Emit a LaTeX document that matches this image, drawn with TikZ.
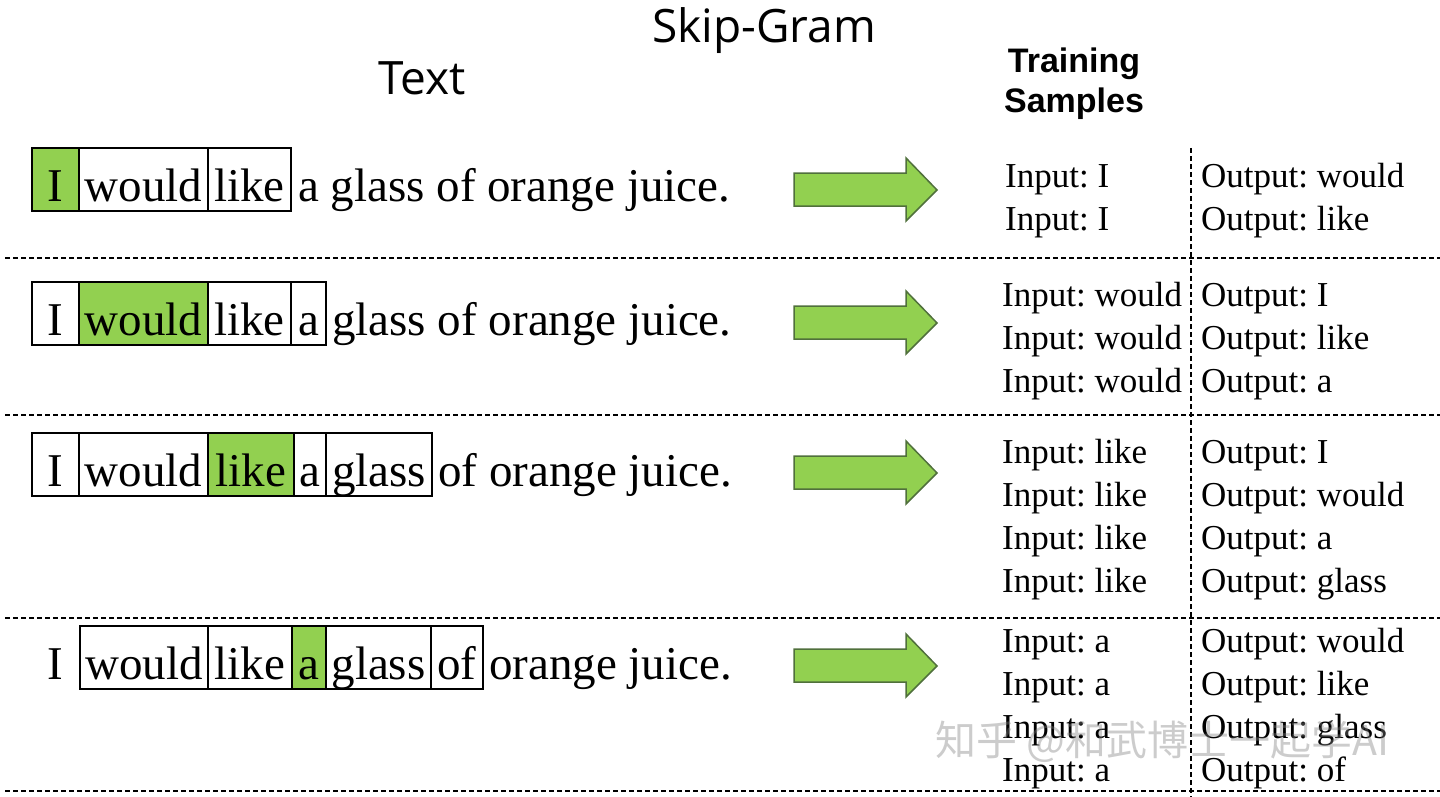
\documentclass[tikz,border=0pt]{standalone}
\usepackage{fontspec}
\setmainfont{Liberation Serif}
\newfontfamily\titlefont{Open Sans}
\newfontfamily\boldsans{Liberation Sans}
\newfontfamily\cjk{Noto Sans CJK SC}
\frenchspacing
\definecolor{hl}{HTML}{92D050}
\definecolor{arrowedge}{HTML}{50703C}
\tikzset{
  sent/.style={font=\fontsize{47}{56}\selectfont, inner sep=0pt, text height=53pt, text depth=10pt},
  wbox/.style={sent, draw=black, line width=1.2pt},
  tail/.style={font=\fontsize{47}{56}\selectfont, inner sep=0pt, anchor=base west},
  sample/.style={font=\fontsize{35}{42}\selectfont, inner sep=0pt, anchor=base west},
  sep/.style={draw=black, line width=1.3pt, dash pattern=on 5pt off 3pt},
  bigarrow/.style={fill=hl, draw=arrowedge, line width=1.5pt, line join=miter},
}
\begin{document}
\begin{tikzpicture}[x=1pt,y=-1pt]
\useasboundingbox (0,0) rectangle (1440,797);

% titles
\node[font=\titlefont\fontsize{46}{54}\selectfont, inner sep=0pt, anchor=base] (title) at (764,43) {Skip-Gram};
\node[font=\titlefont\fontsize{46}{54}\selectfont, inner sep=0pt, anchor=base] (textlbl) at (422,95) {Text};
\node[font=\boldsans\bfseries\fontsize{34}{40}\selectfont, inner sep=0pt, anchor=base, align=center] (train) at (1074,113) {Training\\[0pt]Samples};

% separators
\draw[sep] (5,258) -- (1440,258);
\draw[sep] (5,415) -- (1440,415);
\draw[sep] (5,618) -- (1440,618);
\draw[sep] (5,791) -- (1440,791);
\draw[sep] (1191,148) -- (1191,797);

% ---- row 1
\node[wbox, fill=hl, minimum width=47pt] (r1a) at (55.5,179.5) {I};
\node[wbox, minimum width=129pt] (r1b) at (143.5,179.5) {would};
\node[wbox, minimum width=83pt] (r1c) at (249.5,179.5) {like};
\node[tail] (r1t) at (298,201) {a glass of orange juice.};

% ---- row 2
\node[wbox, minimum width=47pt] (r2a) at (55.5,313.5) {I};
\node[wbox, fill=hl, minimum width=129pt] (r2b) at (143.5,313.5) {would};
\node[wbox, minimum width=83pt] (r2c) at (249.5,313.5) {like};
\node[wbox, minimum width=35pt] (r2d) at (308.5,313.5) {a};
\node[tail] (r2t) at (332,335) {glass of orange juice.};

% ---- row 3
\node[wbox, minimum width=47pt] (r3a) at (55.5,464.5) {I};
\node[wbox, minimum width=129pt] (r3b) at (143.5,464.5) {would};
\node[wbox, fill=hl, minimum width=86pt] (r3c) at (251,464.5) {like};
\node[wbox, minimum width=32pt] (r3d) at (310,464.5) {a};
\node[wbox, minimum width=106pt] (r3e) at (379,464.5) {glass};
\node[tail] (r3t) at (438,486) {of orange juice.};

% ---- row 4
\node[sent] (r4a) at (55.5,657.5) {I};
\node[wbox, minimum width=128pt] (r4b) at (144,657.5) {would};
\node[wbox, minimum width=84pt] (r4c) at (250,657.5) {like};
\node[wbox, fill=hl, minimum width=34pt] (r4d) at (309,657.5) {a};
\node[wbox, minimum width=105pt] (r4e) at (378.5,657.5) {glass};
\node[wbox, minimum width=52pt] (r4f) at (457,657.5) {of};
\node[tail] (r4t) at (489,679) {orange juice.};

% ---- arrows
\foreach \yy in {190,323,473,666}{
  \draw[bigarrow] (794,\yy-17) -- (906,\yy-17) -- (906,\yy-32) -- (937,\yy) -- (906,\yy+31) -- (906,\yy+16) -- (794,\yy+16) -- cycle;
}

% ---- samples row 1
\node[sample] (s1i1) at (1005,187) {Input: I};
\node[sample] (s1i2) at (1005,230) {Input: I};
\node[sample] (s1o1) at (1201,187) {Output: would};
\node[sample] (s1o2) at (1201,230) {Output: like};

% ---- samples row 2
\node[sample] (s2i1) at (1002,306) {Input: would};
\node[sample] (s2i2) at (1002,349) {Input: would};
\node[sample] (s2i3) at (1002,392) {Input: would};
\node[sample] (s2o1) at (1201,306) {Output: I};
\node[sample] (s2o2) at (1201,349) {Output: like};
\node[sample] (s2o3) at (1201,392) {Output: a};

% ---- samples row 3
\node[sample] (s3i1) at (1002,463) {Input: like};
\node[sample] (s3i2) at (1002,506) {Input: like};
\node[sample] (s3i3) at (1002,549) {Input: like};
\node[sample] (s3i4) at (1002,592) {Input: like};
\node[sample] (s3o1) at (1201,463) {Output: I};
\node[sample] (s3o2) at (1201,506) {Output: would};
\node[sample] (s3o3) at (1201,549) {Output: a};
\node[sample] (s3o4) at (1201,592) {Output: glass};

% ---- samples row 4
\node[sample] (s4i1) at (1002,652) {Input: a};
\node[sample] (s4i2) at (1002,695) {Input: a};
\node[sample] (s4i3) at (1002,738) {Input: a};
\node[sample] (s4i4) at (1002,781) {Input: a};
\node[sample] (s4o1) at (1201,652) {Output: would};
\node[sample] (s4o2) at (1201,695) {Output: like};
\node[sample] (s4o3) at (1201,738) {Output: glass};
\node[sample] (s4o4) at (1201,781) {Output: of};

% watermark
\node[font=\cjk\fontsize{41}{48}\selectfont, text=gray, opacity=0.4, inner sep=0pt, anchor=base west] (wm) at (935,755) {知乎 @和武博士一起学AI};
\end{tikzpicture}
\end{document}
